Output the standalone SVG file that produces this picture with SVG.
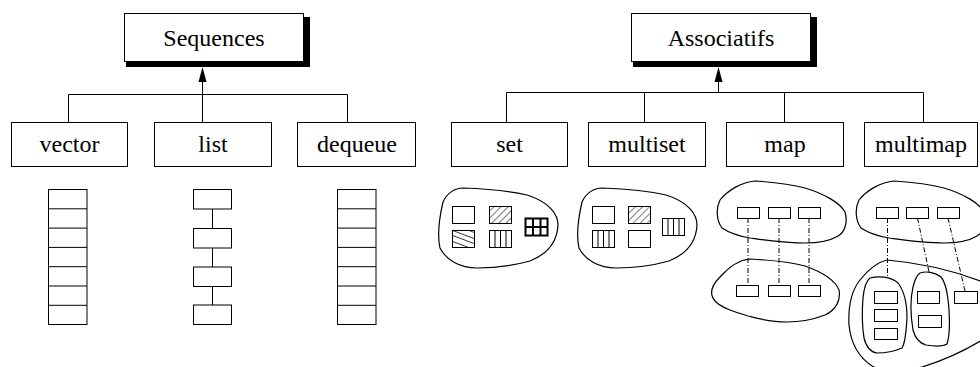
<svg xmlns="http://www.w3.org/2000/svg" width="980" height="367" viewBox="0 0 980 367">
<style>
.box{fill:#fff;stroke:#000;stroke-width:1}
.sh{fill:#000}
.lbl{font-family:"Liberation Serif","Times New Roman",serif;font-size:24px;text-anchor:middle;fill:#000}
.ln{fill:none;stroke:#000;stroke-width:1}
.blob{fill:none;stroke:#000;stroke-width:1.2}
.dd{fill:none;stroke:#000;stroke-width:1;stroke-dasharray:5,2,1,2}
.cell{fill:#fff;stroke:#000;stroke-width:1}
.h{fill:none;stroke:#000;stroke-width:0.8}
</style>
<defs>
<pattern id="diag" width="5" height="5" patternUnits="userSpaceOnUse" patternTransform="rotate(45)">
<rect width="5" height="5" fill="#fff"/>
<line x1="0" y1="0" x2="0" y2="5" stroke="#000" stroke-width="1"/>
</pattern>
<clipPath id="c1"><rect x="452.5" y="230.5" width="22" height="17"/></clipPath>
</defs>

<g id="connectors">
<path class="ln" d="M68.5,122 V94.5 H347.5 V122"/>
<path class="ln" d="M202.5,122 V82"/>
<polygon points="202.5,67 198.5,82 206.5,82" fill="#000"/>
<path class="ln" d="M506.5,122 V92.5 H923.5 V122 M644.5,92.5 V122 M784.5,92.5 V122"/>
<path class="ln" d="M718.5,92.5 V82"/>
<polygon points="718.5,67 714.5,82 722.5,82" fill="#000"/>
</g>

<g id="sequences">
<polygon class="sh" points="303,17 310,17 310,67 126,67 126,61 303,61"/>
<rect class="box" x="124.5" y="13.5" width="179" height="48"/>
<text class="lbl" x="214" y="46">Sequences</text>
</g>
<g id="associatifs">
<polygon class="sh" points="810,17 817,17 817,67 633,67 633,61 810,61"/>
<rect class="box" x="631.5" y="13.5" width="179" height="48"/>
<text class="lbl" x="721" y="46">Associatifs</text>
</g>

<g id="vector">
<rect class="box" x="11.5" y="122.5" width="116" height="44"/>
<text class="lbl" x="69.5" y="152">vector</text>
</g>
<g id="list">
<rect class="box" x="154.5" y="122.5" width="117" height="44"/>
<text class="lbl" x="213" y="152">list</text>
</g>
<g id="dequeue">
<rect class="box" x="297.5" y="122.5" width="118" height="44"/>
<text class="lbl" x="357" y="152">dequeue</text>
</g>
<g id="set">
<rect class="box" x="451.5" y="122.5" width="116" height="44"/>
<text class="lbl" x="509.5" y="152">set</text>
</g>
<g id="multiset">
<rect class="box" x="588.5" y="122.5" width="117" height="44"/>
<text class="lbl" x="647" y="152">multiset</text>
</g>
<g id="map">
<rect class="box" x="726.5" y="122.5" width="117" height="44"/>
<text class="lbl" x="785" y="152">map</text>
</g>
<g id="multimap">
<rect class="box" x="864.5" y="122.5" width="113" height="44"/>
<text class="lbl" x="921" y="152">multimap</text>
</g>

<g id="vector-stack">
<rect class="cell" x="48.5" y="189.5" width="38.5" height="135"/>
<path class="ln" d="M48.5,208.8 H87 M48.5,228.1 H87 M48.5,247.4 H87 M48.5,266.7 H87 M48.5,286 H87 M48.5,305.3 H87"/>
</g>
<g id="list-chain">
<path class="ln" d="M212.5,209 V305"/>
<rect class="cell" x="193.5" y="189.5" width="38" height="19.5"/>
<rect class="cell" x="193.5" y="228.5" width="38" height="19.5"/>
<rect class="cell" x="193.5" y="267" width="38" height="19.5"/>
<rect class="cell" x="193.5" y="305" width="38" height="19.5"/>
</g>
<g id="dequeue-stack">
<rect class="cell" x="337.5" y="189.5" width="38.5" height="135"/>
<path class="ln" d="M337.5,208.8 H376 M337.5,228.1 H376 M337.5,247.4 H376 M337.5,266.7 H376 M337.5,286 H376 M337.5,305.3 H376"/>
</g>

<g id="set-blob">
<path class="blob" d="M463,188 C490,189 510,191 527,195 C550,202 558,215 558,225 C557,245 545,255 530,261 C512,266 495,268 477,268 C460,268 446,260 440,248 C437,235 440,215 443,202 C447,193 455,188 463,188 Z"/>
<rect class="cell" x="452.5" y="206.5" width="22" height="17"/>
<rect x="489.5" y="206.5" width="22" height="17" fill="url(#diag)" stroke="#000"/>
<rect class="cell" x="452.5" y="230.5" width="22" height="17"/>
<g clip-path="url(#c1)">
<path class="h" d="M446,228 L478,240 M446,233 L478,245 M446,239 L478,251 M458,226 L478,234"/>
</g>
<rect class="cell" x="489.5" y="230.5" width="22" height="17"/>
<path class="ln" d="M495,230.5 V247.5 M500.5,230.5 V247.5 M506,230.5 V247.5"/>
<rect x="525.5" y="218.5" width="22" height="17" fill="#fff" stroke="#000" stroke-width="2"/>
<path fill="none" stroke="#000" stroke-width="2" d="M533,218.5 V235.5 M540.5,218.5 V235.5 M525.5,227 H547.5"/>
</g>

<g id="multiset-blob">
<path class="blob" d="M602,188 C629,189 649,191 666,195 C689,202 697,215 697,225 C696,245 684,255 669,261 C651,266 634,268 616,268 C599,268 585,260 579,248 C576,235 579,215 582,202 C586,193 594,188 602,188 Z"/>
<rect class="cell" x="592.5" y="206.5" width="22" height="17"/>
<rect x="628.5" y="206.5" width="22" height="17" fill="url(#diag)" stroke="#000"/>
<rect class="cell" x="592.5" y="230.5" width="22" height="17"/>
<path class="ln" d="M598,230.5 V247.5 M603.5,230.5 V247.5 M609,230.5 V247.5"/>
<rect class="cell" x="628.5" y="230.5" width="22" height="17"/>
<rect class="cell" x="662.5" y="218.5" width="22" height="17"/>
<path class="ln" d="M668,218.5 V235.5 M673.5,218.5 V235.5 M679,218.5 V235.5"/>
</g>

<g id="map-blobs">
<path class="blob" d="M755,181 C770,182 790,184 805,188 C825,194 840,203 845,212 C848,222 845,232 838,236 C828,242 815,243 805,243 C785,243 765,240 750,238 C738,236 728,232 722,228 C716,220 716,208 720,200 C728,190 742,182 755,181 Z"/>
<path class="blob" d="M750,259 C770,260 790,262 805,266 C822,272 835,280 839,290 C841,300 836,310 825,315 C812,320 800,322 787,322 C770,322 760,319 748,316 C735,312 722,308 716,302 C708,294 712,285 720,277 C728,268 738,260 750,259 Z"/>
<path class="dd" d="M748,218 V285 M779,218 V285 M809,218 V285"/>
<rect class="cell" x="737.5" y="207.5" width="22" height="11"/>
<rect class="cell" x="768.5" y="207.5" width="22" height="11"/>
<rect class="cell" x="798.5" y="207.5" width="22" height="11"/>
<rect class="cell" x="736.5" y="285.5" width="22" height="11"/>
<rect class="cell" x="768.5" y="285.5" width="22" height="11"/>
<rect class="cell" x="798.5" y="285.5" width="22" height="11"/>
</g>

<g id="multimap-blobs">
<path class="blob" d="M894,181 C909,182 929,184 944,188 C964,194 979,203 984,212 C987,222 984,232 977,236 C967,242 954,243 944,243 C924,243 904,240 889,238 C877,236 867,232 861,228 C855,220 855,208 859,200 C867,190 881,182 894,181 Z"/>
<path class="blob" d="M887,260 C910,262 950,268 990,285 L990,335 C970,348 945,360 922,367 C900,372 882,372 872,366 C860,358 851,345 849,325 C848,305 852,290 860,280 C868,270 878,262 887,260 Z"/>
<path class="blob" d="M870,278 C878,276 890,276 898,283 C905,292 907,305 907,318 C906,330 906,342 902,348 C895,351 885,353 877,353 C870,352 866,346 864,338 C862,325 862,310 863,298 C864,288 866,281 870,278 Z"/>
<path class="blob" d="M920,273 C926,271 935,272 941,277 C946,283 948,295 949,310 C950,325 949,338 947,344 C942,347 932,346 926,345 C919,343 915,338 913,330 C911,318 910,300 913,287 C915,279 917,275 920,273 Z"/>
<path class="dd" d="M887.5,218 V277 M917.5,218 L929,272 M948,218 L965,291"/>
<rect class="cell" x="876.5" y="207.5" width="22" height="11"/>
<rect class="cell" x="906.5" y="207.5" width="22" height="11"/>
<rect class="cell" x="937.5" y="207.5" width="22" height="11"/>
<rect class="cell" x="874.5" y="291.5" width="23" height="12"/>
<rect class="cell" x="874.5" y="309.5" width="23" height="12"/>
<rect class="cell" x="874.5" y="328.5" width="23" height="11"/>
<rect class="cell" x="917.5" y="291.5" width="22" height="12"/>
<rect class="cell" x="918.5" y="315.5" width="23" height="12"/>
<rect class="cell" x="954.5" y="291.5" width="23" height="12"/>
</g>
</svg>
